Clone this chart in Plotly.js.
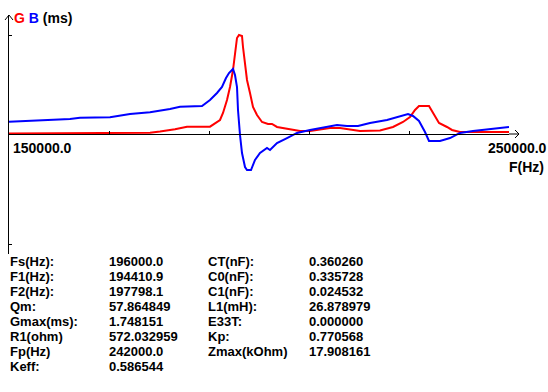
<!DOCTYPE html>
<html>
<head>
<meta charset="utf-8">
<script src="https://cdn.plot.ly/plotly-3.0.1.min.js"></script>
<style>html,body{margin:0;padding:0;background:#fff;}#chart{width:548px;height:392px;}</style>
</head>
<body>
<div id="chart"></div>
<script>
// Frequency (Hz) and conductance G (ms)
var freqG = [150000,176200,178200,180200,183200,185600,190200,192200,192800,193600,194200,194800,195200,195600,196000,196600,196800,197200,197600,198200,198800,199600,200600,201800,202600,203600,205600,208200,210200,214200,216200,220200,224200,226800,228800,230200,231200,232000,234000,234800,236000,237600,238600,240200,242200,250000];
var valG  = [0.01,0.01,0.023,0.044,0.083,0.129,0.129,0.247,0.371,0.600,0.830,1.130,1.430,1.695,1.748,1.730,1.536,1.254,0.954,0.724,0.477,0.336,0.212,0.177,0.177,0.124,0.088,0.053,0.053,0.106,0.106,0.053,0.062,0.124,0.212,0.300,0.424,0.494,0.494,0.371,0.194,0.124,0.071,0.035,0.035,0.035];
// Frequency (Hz) and susceptance B (ms)
var freqB = [150000,158200,162200,164200,170200,174200,178200,182200,184200,188600,190200,191600,192600,193400,194000,194800,195200,195600,195800,196200,196600,197200,197600,198400,199200,200200,201600,202200,203600,205600,207600,210200,213600,215600,217600,219800,222200,225600,229800,230800,232000,233200,234000,236200,238200,240200,242800,246200,250000];
var valB  = [0.217,0.247,0.265,0.288,0.295,0.353,0.383,0.441,0.482,0.494,0.600,0.724,0.830,0.989,1.077,1.148,1.042,0.830,0.424,-0.018,-0.336,-0.583,-0.636,-0.636,-0.459,-0.336,-0.247,-0.283,-0.159,-0.071,0.018,0.071,0.124,0.159,0.141,0.141,0.194,0.247,0.353,0.318,0.230,0.035,-0.124,-0.124,-0.071,0.018,0.053,0.088,0.124];

var xTicks = [170000,190000,210000,230000,250000];
var yTicks = [1.748,-1.943];
var xMin = 150000, xMax = 250000;
var xMinLabel = "150000.0", xMaxLabel = "250000.0", xTitle = "F(Hz)";

var paramLabelsA = ["Fs(Hz):","F1(Hz):","F2(Hz):","Qm:","Gmax(ms):","R1(ohm)","Fp(Hz)","Keff:"];
var paramValuesA = ["196000.0","194410.9","197798.1","57.864849","1.748151","572.032959","242000.0","0.586544"];
var paramLabelsB = ["CT(nF):","C0(nF):","C1(nF):","L1(mH):","E33T:","Kp:","Zmax(kOhm)"];
var paramValuesB = ["0.360260","0.335728","0.024532","26.878979","0.000000","0.770568","17.908161"];

var W = 548, H = 392, L = 9, R = 509, T = 15, B = 254;
function px(x){ return (x - L) / (R - L); }
function py(y){ return (B - y) / (B - T); }
var FONT = "Liberation Sans, Arial, sans-serif";

var traces = [
  {x: freqG, y: valG, type: 'scatter', mode: 'lines', line: {color: '#ff0000', width: 2}, hoverinfo: 'skip', cliponaxis: false},
  {x: freqB, y: valB, type: 'scatter', mode: 'lines', line: {color: '#0000ff', width: 2}, hoverinfo: 'skip', cliponaxis: false}
];

var ann = [];
function addText(text, x, y, size){
  ann.push({text: text, xref: 'paper', yref: 'paper', x: px(x), y: py(y), xanchor: 'left', yanchor: 'middle',
    showarrow: false, font: {family: FONT, size: size, color: '#000', weight: 'bold'}, borderpad: 0, borderwidth: 0});
}
addText("<span style='color:#ff0000'>G</span> <span style='color:#0000ff'>B</span> (ms)", 14, 18, 14);
addText(xMinLabel, 13, 148, 14);
addText(xMaxLabel, 488, 148, 14);
addText(xTitle, 509, 167, 14);
for (var i = 0; i < paramLabelsA.length; i++){
  addText(paramLabelsA[i], 10, 261.5 + 15*i, 13);
  addText(paramValuesA[i], 109, 261.5 + 15*i, 13);
}
for (var j = 0; j < paramLabelsB.length; j++){
  addText(paramLabelsB[j], 208, 261.5 + 15*j, 13);
  addText(paramValuesB[j], 309, 261.5 + 15*j, 13);
}

function path(pts){ return pts.map(function(p,k){ return (k ? 'L' : 'M') + px(p[0]) + ',' + py(p[1]); }).join(' '); }
var shapes = [
  {type: 'path', xref: 'paper', yref: 'paper', path: path([[509,134],[519,134]]), line: {color: '#000', width: 1}},
  {type: 'path', xref: 'paper', yref: 'paper', path: path([[515,130],[519,134],[515,138]]), line: {color: '#000', width: 1}},
  {type: 'path', xref: 'paper', yref: 'paper', path: path([[5,20],[9,15],[13,20]]), line: {color: '#000', width: 1}}
];

var yLo = -(B - 134) * 1.748 / 99, yHi = (134 - T) * 1.748 / 99;

var layout = {
  width: W, height: H,
  margin: {l: L, r: W - R, t: T, b: H - B, pad: 0},
  paper_bgcolor: '#fff', plot_bgcolor: '#fff',
  showlegend: false,
  xaxis: {range: [xMin, xMax], anchor: 'free', position: py(134), showline: true, linecolor: '#000', linewidth: 1,
    ticks: 'inside', ticklen: 3, tickcolor: '#000', tickwidth: 1, tickvals: xTicks, showticklabels: false,
    showgrid: false, zeroline: false, fixedrange: true},
  yaxis: {range: [yLo, yHi], showline: true, linecolor: '#000', linewidth: 1,
    ticks: 'inside', ticklen: 3, tickcolor: '#000', tickwidth: 1, tickvals: yTicks, showticklabels: false,
    showgrid: false, zeroline: false, fixedrange: true},
  annotations: ann,
  shapes: shapes
};

Plotly.newPlot('chart', traces, layout, {staticPlot: true, displayModeBar: false});
</script>
</body>
</html>
